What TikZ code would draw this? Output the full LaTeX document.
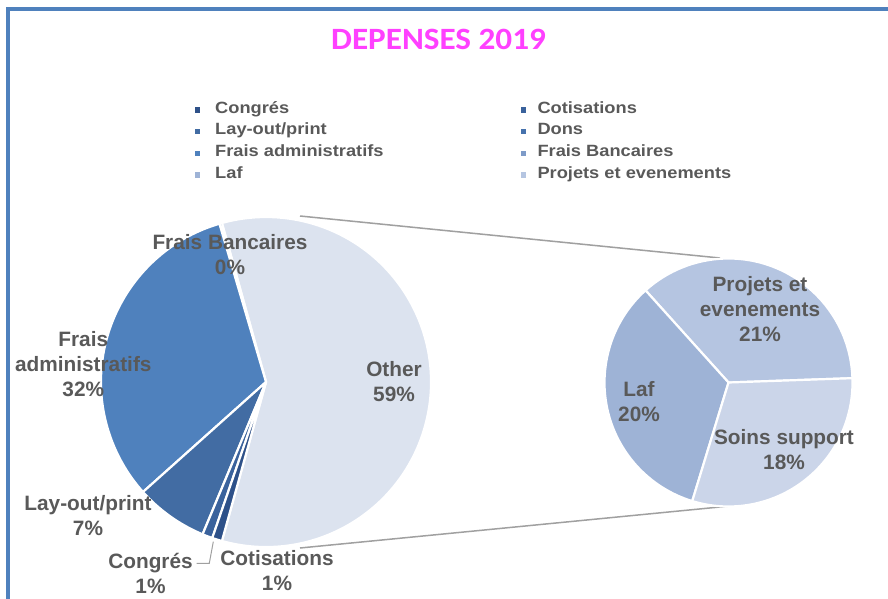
\documentclass[tikz,border=0pt]{standalone}
\usepackage{fontspec}
\setmainfont{Liberation Sans}
\newfontfamily\titlefont[FakeStretch=1.07]{Carlito}
\newfontfamily\legfont[FakeStretch=1.12]{Liberation Sans}
\definecolor{framecol}{RGB}{79,129,189}
\definecolor{titlecol}{RGB}{255,64,255}
\definecolor{labelgray}{RGB}{89,89,89}
\definecolor{conngray}{RGB}{160,160,160}
\definecolor{cOther}{RGB}{220,227,239}
\definecolor{cBanc}{RGB}{126,155,200}
\definecolor{cAdmin}{RGB}{79,129,189}
\definecolor{cLayout}{RGB}{66,108,163}
\definecolor{cCotis}{RGB}{58,98,156}
\definecolor{cCongres}{RGB}{46,81,137}
\definecolor{cDons}{RGB}{70,114,173}
\definecolor{cProjets}{RGB}{181,197,225}
\definecolor{cLaf}{RGB}{158,179,214}
\definecolor{cSoins}{RGB}{203,213,233}
\newcommand\pieslice[5]{%
  \filldraw[slice, fill=#5] (#1) -- ++(#3:#2) arc[start angle=#3, end angle=#4, radius=#2] -- cycle;}
\begin{document}
\begin{tikzpicture}[x=1pt,y=-1pt,
  lbl/.style={font=\fontsize{20.8}{25}\selectfont\bfseries, text=labelgray, align=center, inner sep=0pt},
  leg/.style={font=\legfont\fontsize{16.3}{19}\selectfont\bfseries, text=labelgray, anchor=base west, inner sep=0pt},
  mk/.style={rectangle, minimum size=5.5pt, inner sep=0pt},
  slice/.style={draw=white, line width=2.2pt, line join=round},
  conn/.style={draw=conngray, line width=1.5pt},
  leader/.style={draw=conngray, line width=1pt}]
\useasboundingbox (0,0) rectangle (888,599);
% frame
\draw[framecol, line width=4pt] (8,600) -- (8,8.7) -- (890,8.7);
% title
\node[font=\titlefont\fontsize{31}{36}\selectfont\bfseries, text=titlecol, anchor=base, inner sep=0pt] (title) at (438.5,49.3) {DEPENSES 2019};
% legend
\node[mk, fill=cCongres] (m1) at (197.5,110) {};
\node[mk, fill=cLayout] (m2) at (197.5,131.7) {};
\node[mk, fill=cAdmin] (m3) at (197.5,153.4) {};
\node[mk, fill=cLaf] (m4) at (197.5,175) {};
\node[mk, fill=cCotis] (m5) at (523.3,110) {};
\node[mk, fill=cDons] (m6) at (523.3,131.7) {};
\node[mk, fill=cBanc] (m7) at (523.3,153.4) {};
\node[mk, fill=cProjets] (m8) at (523.3,175) {};
\node[leg] (l1) at (215,113.3) {Congrés};
\node[leg] (l2) at (215,135) {Lay-out/print};
\node[leg] (l3) at (215,156.7) {Frais administratifs};
\node[leg] (l4) at (215,178.3) {Laf};
\node[leg] (l5) at (537.3,113.3) {Cotisations};
\node[leg] (l6) at (537.3,135) {Dons};
\node[leg] (l7) at (537.3,156.7) {Frais Bancaires};
\node[leg] (l8) at (537.3,178.3) {Projets et evenements};
% centres and connector ends
\coordinate (mc) at (266,382);
\coordinate (sc) at (728.5,382.5);
\coordinate (t1) at (300,216);
\coordinate (t2) at (720,258);
\coordinate (b1) at (300,548);
\coordinate (b2) at (730,506);
\draw[conn] (t1) -- (t2);
\draw[conn] (b1) -- (b2);
% main pie
\pieslice{mc}{165pt}{-105.5}{105.5}{cOther}
\pieslice{mc}{165pt}{105.5}{106.4}{cBanc}
\pieslice{mc}{165pt}{106.4}{221.8}{cAdmin}
\pieslice{mc}{165pt}{221.8}{247.4}{cLayout}
\pieslice{mc}{165pt}{247.4}{251.0}{cCotis}
\pieslice{mc}{165pt}{251.0}{254.5}{cCongres}
% secondary pie
\pieslice{sc}{124pt}{2}{132}{cProjets}
\pieslice{sc}{124pt}{132}{253}{cLaf}
\pieslice{sc}{124pt}{253}{362}{cSoins}
% labels
\node[lbl] (lbanc) at (230,255) {Frais Bancaires\\0\%};
\node[lbl] (ladmin) at (83.3,364) {Frais\\administratifs\\32\%};
\node[lbl] (llay) at (88,515.7) {Lay-out/print\\7\%};
\node[lbl] (lother) at (394,381.8) {Other\\59\%};
\node[lbl] (lcong) at (150.5,573.8) {Congrés\\1\%};
\node[lbl] (lcotis) at (277,571) {Cotisations\\1\%};
\node[lbl] (lproj) at (760,309) {Projets et\\evenements\\21\%};
\node[lbl] (llaf) at (639,402) {Laf\\20\%};
\node[lbl] (lsoins) at (784,450) {Soins support\\18\%};
% leader line
\coordinate (ld1) at (213.3,541.7);
\coordinate (ld2) at (209.3,563.3);
\coordinate (ld3) at (196.7,563.3);
\draw[leader] (ld1) -- (ld2) -- (ld3);
\end{tikzpicture}
\end{document}
